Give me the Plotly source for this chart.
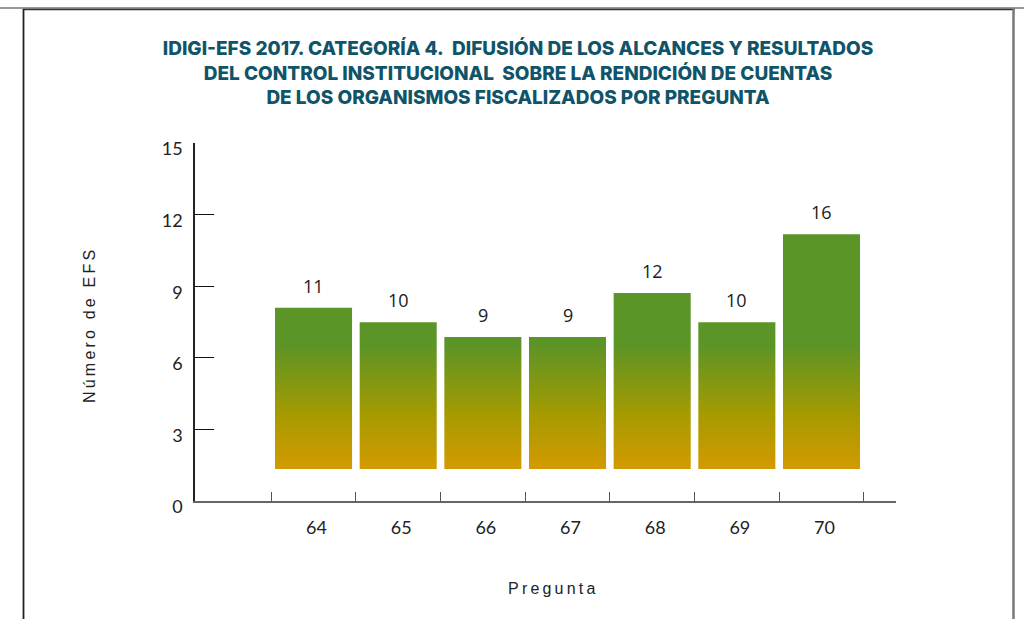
import plotly.graph_objects as go

# ---- data ----
categories = ["64", "65", "66", "67", "68", "69", "70"]
values = [11, 10, 9, 9, 12, 10, 16]
y_ticks = [0, 3, 6, 9, 12, 15]

title_lines = [
    "IDIGI-EFS 2017. CATEGORÍA 4.\u00a0 DIFUSIÓN DE LOS ALCANCES Y RESULTADOS",
    "DEL CONTROL INSTITUCIONAL\u00a0 SOBRE LA RENDICIÓN DE CUENTAS",
    "DE LOS ORGANISMOS FISCALIZADOS POR PREGUNTA",
]
y_title = "Número de EFS"
x_title = "Pregunta"

W, H = 1024, 619
ML, MR, MT, MB = 195, 128, 143, 118
PW, PH = W - ML - MR, H - MT - MB

GREEN = "#5B9427"
OLIVE = "#A69B00"
ORANGE = "#D39A00"
BAR_W = 0.91


def spaced(s, sep="\u2009"):
    return sep.join(list(s))


def px_x(px):
    return (px - ML) / PW


def px_y(py):
    return (H - MB - py) / PH


fig = go.Figure()

# invisible traces so that the display axes are drawn
fig.add_trace(go.Scatter(x=[None], y=[None], xaxis="x", yaxis="y",
                         showlegend=False, hoverinfo="skip"))
fig.add_trace(go.Scatter(x=[None], y=[None], xaxis="x2", yaxis="y",
                         showlegend=False, hoverinfo="skip"))

for i, (c, v) in enumerate(zip(categories, values)):
    x0, x1 = i - BAR_W / 2, i + BAR_W / 2
    fig.add_trace(go.Scatter(
        x=[x0, x1, x1, x0, x0], y=[0, 0, v, v, 0],
        xaxis="x", yaxis="y2",
        mode="lines", line=dict(width=0),
        fill="toself",
        fillgradient=dict(type="vertical", start=0, stop=8.5,
                          colorscale=[[0, ORANGE], [0.43, OLIVE], [1, GREEN]]),
        hoverinfo="skip", showlegend=False,
    ))
    fig.add_annotation(x=i, y=v, xref="x", yref="y2", text=str(v),
                       showarrow=False, yanchor="bottom", yshift=8,
                       font=dict(family="Open Sans", size=18, color="#1a1a1a"))

xr = [-1.40, 6.88]
fig.update_layout(
    width=W, height=H,
    margin=dict(l=ML, r=MR, t=MT, b=MB, pad=0),
    paper_bgcolor="white", plot_bgcolor="white",
    title=dict(text="<br>".join(title_lines), x=518 / W, xanchor="center",
               y=1 - 55 / H, yanchor="top", yref="container",
               font=dict(family="Inter", size=19, color="#0F5468", weight=800)),
    xaxis=dict(range=xr, showgrid=False, zeroline=False,
               tickmode="array", tickvals=[i - 0.5 for i in range(len(categories) + 1)],
               ticks="inside", ticklen=9, tickcolor="#555", tickwidth=1.3,
               showticklabels=False, showline=True, linecolor="#666", linewidth=1.5),
    xaxis2=dict(range=xr, overlaying="x", anchor="y", side="bottom",
                showgrid=False, zeroline=False, showline=False, ticks="",
                tickmode="array", tickvals=list(range(len(categories))),
                ticktext=categories, ticklabelstandoff=14, ticklabelshift=3,
                tickfont=dict(family="Lato", size=18, color="#222")),
    yaxis=dict(range=[0, 15], tickmode="array", tickvals=y_ticks,
               ticks="inside", ticklen=19, tickcolor="#111", tickwidth=1.3,
               showline=True, linecolor="#222", linewidth=1.5,
               showgrid=False, zeroline=False, ticklabelshift=6,
               ticklabelstandoff=7,
               tickfont=dict(family="Lato", size=18, color="#222")),
    yaxis2=dict(range=[-(500.7 - 468.7) / 14.62, (468.7 - 143.7) / 14.62],
                overlaying="y", visible=False),
)

fig.add_annotation(xref="paper", yref="paper", x=px_x(89), y=px_y(326),
                   xanchor="center", yanchor="middle",
                   text=spaced(y_title), textangle=-90, showarrow=False,
                   font=dict(family="Liberation Sans", size=16, color="#222"))
fig.add_annotation(xref="paper", yref="paper", x=px_x(551), y=px_y(588),
                   xanchor="center", yanchor="middle",
                   text=spaced(x_title), showarrow=False,
                   font=dict(family="Liberation Sans", size=16, color="#222"))

# frame around the figure
fig.add_shape(type="line", xref="paper", yref="paper",
              x0=px_x(0), x1=px_x(W), y0=px_y(8), y1=px_y(8),
              line=dict(color="#999", width=2))
fig.add_shape(type="line", xref="paper", yref="paper",
              x0=px_x(23), x1=px_x(1015), y0=px_y(9.5), y1=px_y(9.5),
              line=dict(color="#333", width=1.5))
fig.add_shape(type="line", xref="paper", yref="paper",
              x0=px_x(23.5), x1=px_x(23.5), y0=px_y(9), y1=px_y(H + 5),
              line=dict(color="#222", width=1.8))
fig.add_shape(type="line", xref="paper", yref="paper",
              x0=px_x(1013.5), x1=px_x(1013.5), y0=px_y(9), y1=px_y(H + 5),
              line=dict(color="#777", width=2.5))

fig.write_html("out.html", config={"displayModeBar": False},
               post_script="document.body.style.margin='0';")
